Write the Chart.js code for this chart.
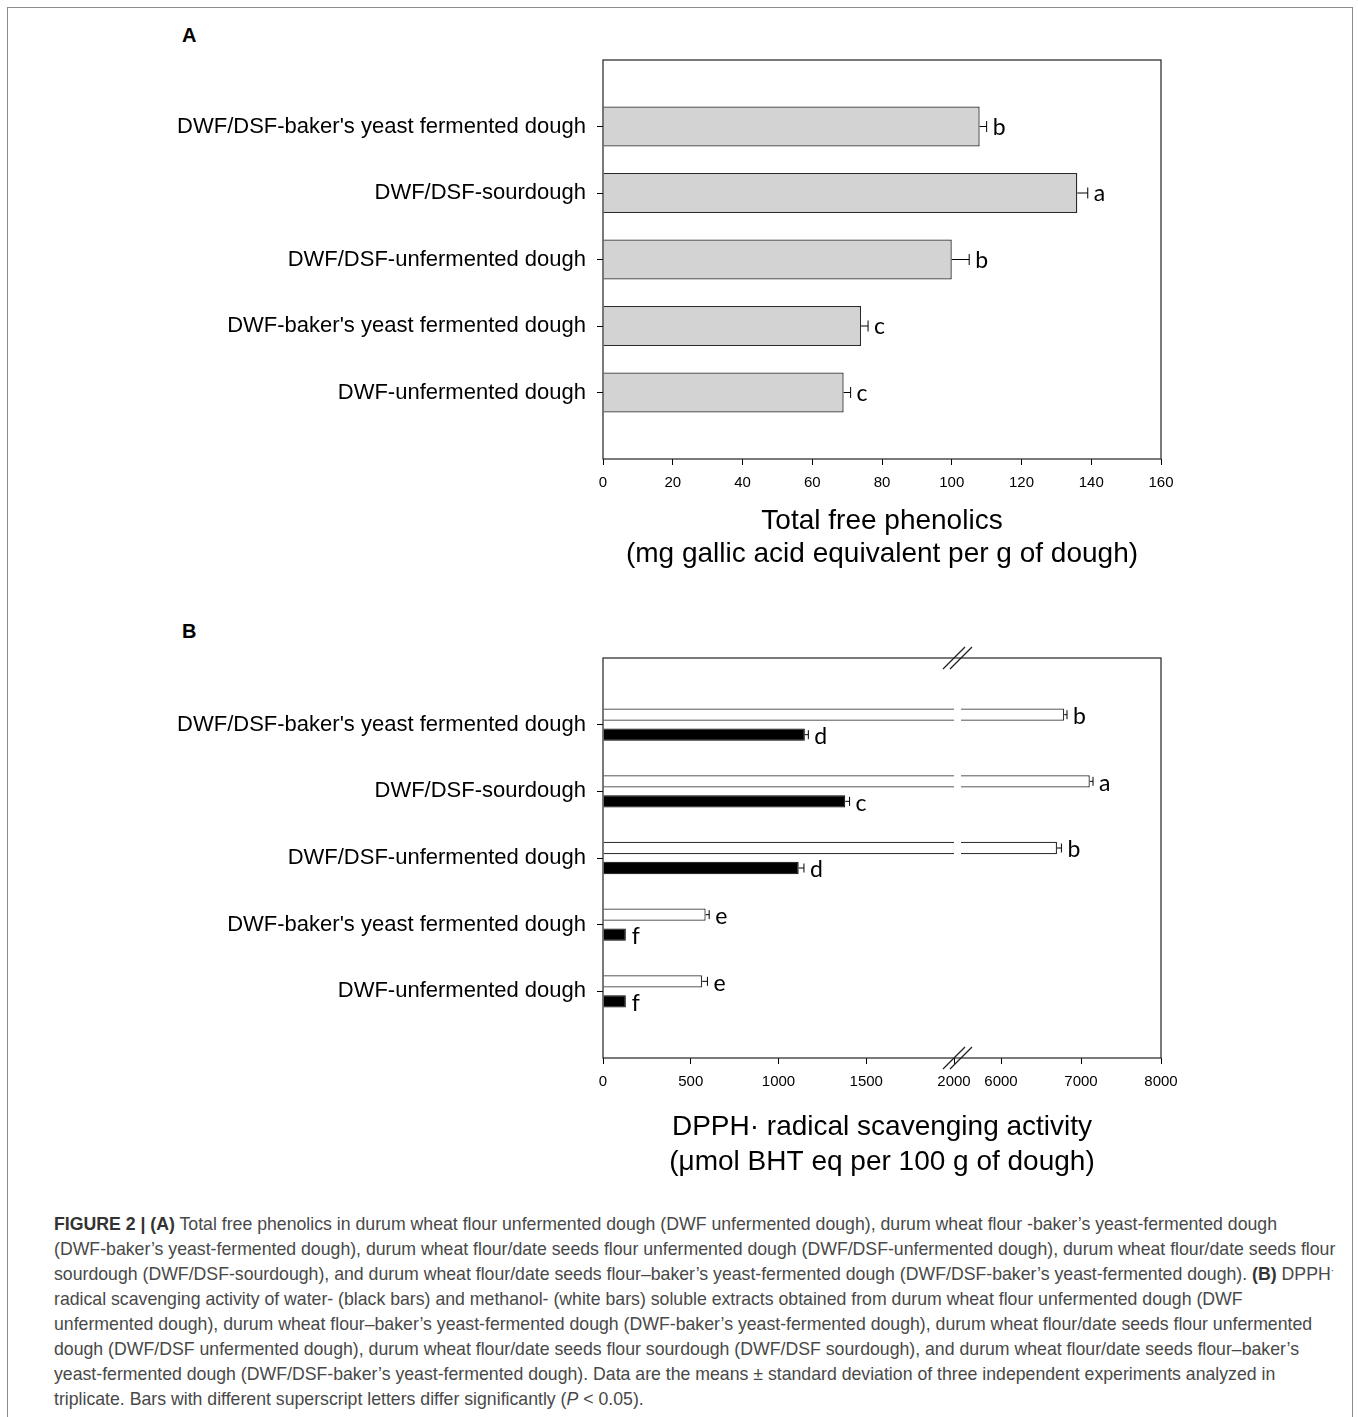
<!DOCTYPE html>
<html>
<head>
<meta charset="utf-8">
<script src="https://cdn.jsdelivr.net/npm/chart.js@4.4.1/dist/chart.umd.min.js"></script>
<style>
  body { margin: 0; background: #fff; width: 1358px; height: 1417px; position: relative; overflow: hidden; font-family: "Liberation Sans", Arial, sans-serif; }
  .frame { position: absolute; left: 7px; top: 7px; width: 1344px; height: 1440px; border: 1px solid #8c8c8c; }
  .panel { position: absolute; left: 182px; font: bold 20px "Liberation Sans", Arial, sans-serif; color: #000; }
  canvas { position: absolute; left: 0; }
  #caption { position: absolute; left: 54px; top: 1212px; font-size: 17.7px; line-height: 25px; color: #484848; white-space: nowrap; }
  #caption b { color: #333; }
  #caption sup { font-size: 10px; line-height: 0; vertical-align: 6px; }
</style>
</head>
<body>
<div class="frame"></div>
<div class="panel" style="top:24px">A</div>
<div class="panel" style="top:620px">B</div>
<canvas id="chartA" width="1358" height="570" style="top:0"></canvas>
<canvas id="chartB" width="1358" height="579" style="top:600px"></canvas>
<div id="caption">
<div><b>FIGURE 2 | (A)</b> Total free phenolics in durum wheat flour unfermented dough (DWF unfermented dough), durum wheat flour -baker’s yeast-fermented dough</div>
<div>(DWF-baker’s yeast-fermented dough), durum wheat flour/date seeds flour unfermented dough (DWF/DSF-unfermented dough), durum wheat flour/date seeds flour</div>
<div>sourdough (DWF/DSF-sourdough), and durum wheat flour/date seeds flour–baker’s yeast-fermented dough (DWF/DSF-baker’s yeast-fermented dough). <b>(B)</b> DPPH<sup>·</sup></div>
<div>radical scavenging activity of water- (black bars) and methanol- (white bars) soluble extracts obtained from durum wheat flour unfermented dough (DWF</div>
<div>unfermented dough), durum wheat flour–baker’s yeast-fermented dough (DWF-baker’s yeast-fermented dough), durum wheat flour/date seeds flour unfermented</div>
<div>dough (DWF/DSF unfermented dough), durum wheat flour/date seeds flour sourdough (DWF/DSF sourdough), and durum wheat flour/date seeds flour–baker’s</div>
<div>yeast-fermented dough (DWF/DSF-baker’s yeast-fermented dough). Data are the means ± standard deviation of three independent experiments analyzed in</div>
<div>triplicate. Bars with different superscript letters differ significantly (<i>P</i> &lt; 0.05).</div>
</div>
<script>
// Data
const categories = [
  "DWF/DSF-baker's yeast fermented dough",
  "DWF/DSF-sourdough",
  "DWF/DSF-unfermented dough",
  "DWF-baker's yeast fermented dough",
  "DWF-unfermented dough"
];

// panel A - total free phenolics
const phenolics = [108, 136, 100, 74, 69];
const phenolicsSd = [2, 3, 5, 2, 2];
const phenolicsLetters = ['b', 'a', 'b', 'c', 'c'];

// panel B - DPPH scavenging
const methanol = [6790, 7110, 6700, 585, 565];
const methanolSd = [35, 40, 55, 20, 30];
const methanolLetters = ['b', 'a', 'b', 'e', 'e'];
const water = [1150, 1380, 1115, 130, 130];
const waterSd = [20, 25, 30, 0, 0];
const waterLetters = ['d', 'c', 'd', 'f', 'f'];
const dpphTicks = [0, 500, 1000, 1500, 2000, 6000, 7000, 8000];

// axis break for panel B
const breakLow = 2000;
const breakHigh = 5500;
const axisMax = 8000;
const lowShare = 351 / 558;
const highStart = 358 / 558;

Chart.defaults.font.family = '"Liberation Sans", Arial, sans-serif';
Chart.defaults.color = '#000';
Chart.defaults.animation = false;

// pad with an empty slot at top and bottom like the original
const pad = arr => [null, ...arr, null];
const padLabels = ['', ...categories, ''];

class BrokenScale extends Chart.LinearScale {
  static id = 'broken';
  buildTicks() {
    return dpphTicks.map(v => ({value: v}));
  }
  toDecimal(v) {
    if (v <= breakLow) return v / breakLow * lowShare;
    if (v >= breakHigh) return highStart + (v - breakHigh) / (axisMax - breakHigh) * (1 - highStart);
    return lowShare + (v - breakLow) / (breakHigh - breakLow) * (highStart - lowShare);
  }
  getPixelForValue(value) {
    if (value === null || value === undefined) return NaN;
    return this.getPixelForDecimal(this.toDecimal(value));
  }
  getValueForPixel(pixel) {
    const d = this.getDecimalForPixel(pixel);
    if (d <= lowShare) return d / lowShare * breakLow;
    if (d >= highStart) return breakHigh + (d - highStart) / (1 - highStart) * (axisMax - breakHigh);
    return breakLow + (d - lowShare) / (highStart - lowShare) * (breakHigh - breakLow);
  }
}
Chart.register(BrokenScale);

const frameBox = {
  id: 'frameBox',
  afterDraw(chart) {
    const {ctx, chartArea: a} = chart;
    ctx.save();
    ctx.strokeStyle = '#222';
    ctx.lineWidth = 1.2;
    ctx.strokeRect(a.left, a.top, a.right - a.left, a.bottom - a.top);
    ctx.restore();
  }
};

const errorBars = {
  id: 'errorBars',
  afterDatasetsDraw(chart, args, opts) {
    const {ctx} = chart;
    const xs = chart.scales.x;
    ctx.save();
    chart.data.datasets.forEach((ds, di) => {
      const meta = chart.getDatasetMeta(di);
      meta.data.forEach((bar, i) => {
        const v = ds.data[i];
        if (v === null) return;
        const sd = ds.sd[i] || 0;
        const end = xs.getPixelForValue(v + sd);
        ctx.strokeStyle = '#000';
        ctx.lineWidth = 1;
        if (sd > 0) {
          ctx.beginPath();
          ctx.moveTo(bar.x, bar.y);
          ctx.lineTo(end, bar.y);
          ctx.moveTo(end, bar.y - opts.cap / 2);
          ctx.lineTo(end, bar.y + opts.cap / 2);
          ctx.stroke();
        }
        ctx.fillStyle = '#000';
        ctx.font = opts.font;
        ctx.textAlign = 'left';
        ctx.textBaseline = 'middle';
        ctx.fillText(ds.letters[i], Math.max(end, bar.x) + opts.gap, bar.y + opts.dy);
      });
    });
    ctx.restore();
  }
};

const axisBreak = {
  id: 'axisBreak',
  afterDatasetsDraw(chart) {
    const {ctx, chartArea: a} = chart;
    const xs = chart.scales.x;
    const p1 = xs.getPixelForValue(breakLow);
    const p2 = xs.getPixelForValue(breakHigh);
    ctx.save();
    ctx.fillStyle = '#fff';
    ctx.fillRect(p1, a.top + 1, p2 - p1, a.bottom - a.top - 2);
    ctx.restore();
  },
  afterDraw(chart) {
    const {ctx, chartArea: a} = chart;
    const xs = chart.scales.x;
    const p1 = xs.getPixelForValue(breakLow);
    const p2 = xs.getPixelForValue(breakHigh);
    ctx.save();
    ctx.strokeStyle = '#222';
    ctx.lineWidth = 1.2;
    [a.top, a.bottom].forEach(y => {
      [p1, p2].forEach(p => {
        ctx.beginPath();
        ctx.moveTo(p - 11, y + 11);
        ctx.lineTo(p + 11, y - 11);
        ctx.stroke();
      });
    });
    ctx.restore();
  }
};

const yAxis = {
  type: 'category',
  offset: false,
  grid: {
    offset: false,
    drawOnChartArea: false,
    tickLength: 6,
    color: c => (c.index === 0 || c.index === padLabels.length - 1) ? 'rgba(0,0,0,0)' : '#000'
  },
  border: {display: false},
  ticks: {font: {size: 22}, padding: 11, color: '#000'},
  afterFit: s => { s.width = 603; }
};

// Panel A
new Chart(document.getElementById('chartA'), {
  type: 'bar',
  data: {
    labels: padLabels,
    datasets: [{
      data: pad(phenolics),
      sd: pad(phenolicsSd),
      letters: pad(phenolicsLetters),
      backgroundColor: '#d3d3d3',
      borderColor: '#2a2a2a',
      borderWidth: 1.3,
      categoryPercentage: 1,
      barPercentage: 0.6
    }]
  },
  options: {
    indexAxis: 'y',
    responsive: false,
    layout: {padding: {top: 60, right: 197, left: 0, bottom: 0}},
    plugins: {
      legend: {display: false},
      tooltip: {enabled: false},
      errorBars: {cap: 11, gap: 6, dy: 1, font: '23px Lato, "Open Sans", sans-serif'}
    },
    scales: {
      x: {
        type: 'linear',
        min: 0,
        max: 160,
        ticks: {stepSize: 20, font: {size: 15}, padding: 9, maxRotation: 0},
        grid: {drawOnChartArea: false, tickLength: 6, color: '#000'},
        border: {display: false},
        title: {
          display: true,
          text: ['Total free phenolics', '(mg gallic acid equivalent per g of dough)'],
          font: {size: 28, lineHeight: 1.15},
          padding: 0,
          color: '#000'
        },
        afterFit: s => { s.height = 111; }
      },
      y: yAxis
    }
  },
  plugins: [errorBars, frameBox]
});

// Panel B
new Chart(document.getElementById('chartB'), {
  type: 'bar',
  data: {
    labels: padLabels,
    datasets: [{
      label: 'methanol',
      data: pad(methanol),
      sd: pad(methanolSd),
      letters: pad(methanolLetters),
      backgroundColor: '#fff',
      borderColor: '#333',
      borderWidth: 1.3,
      categoryPercentage: 0.6,
      barPercentage: 0.62
    }, {
      label: 'water',
      data: pad(water),
      sd: pad(waterSd),
      letters: pad(waterLetters),
      backgroundColor: '#000',
      borderColor: '#000',
      borderWidth: 1,
      categoryPercentage: 0.6,
      barPercentage: 0.62
    }]
  },
  options: {
    indexAxis: 'y',
    responsive: false,
    layout: {padding: {top: 58, right: 197, left: 0, bottom: 0}},
    plugins: {
      legend: {display: false},
      tooltip: {enabled: false},
      errorBars: {cap: 9, gap: 6, dy: 2, font: '23px Lato, "Open Sans", sans-serif'}
    },
    scales: {
      x: {
        type: 'broken',
        min: 0,
        max: axisMax,
        ticks: {font: {size: 15}, padding: 9, maxRotation: 0, autoSkip: false, callback: v => String(v)},
        grid: {drawOnChartArea: false, tickLength: 6, color: '#000'},
        border: {display: false},
        title: {
          display: true,
          text: ['DPPH· radical scavenging activity', '(μmol BHT eq per 100 g of dough)'],
          font: {size: 28, lineHeight: 1.22},
          padding: 0,
          color: '#000'
        },
        afterFit: s => { s.height = 121; }
      },
      y: yAxis
    }
  },
  plugins: [axisBreak, errorBars, frameBox]
});
</script>
</body>
</html>
